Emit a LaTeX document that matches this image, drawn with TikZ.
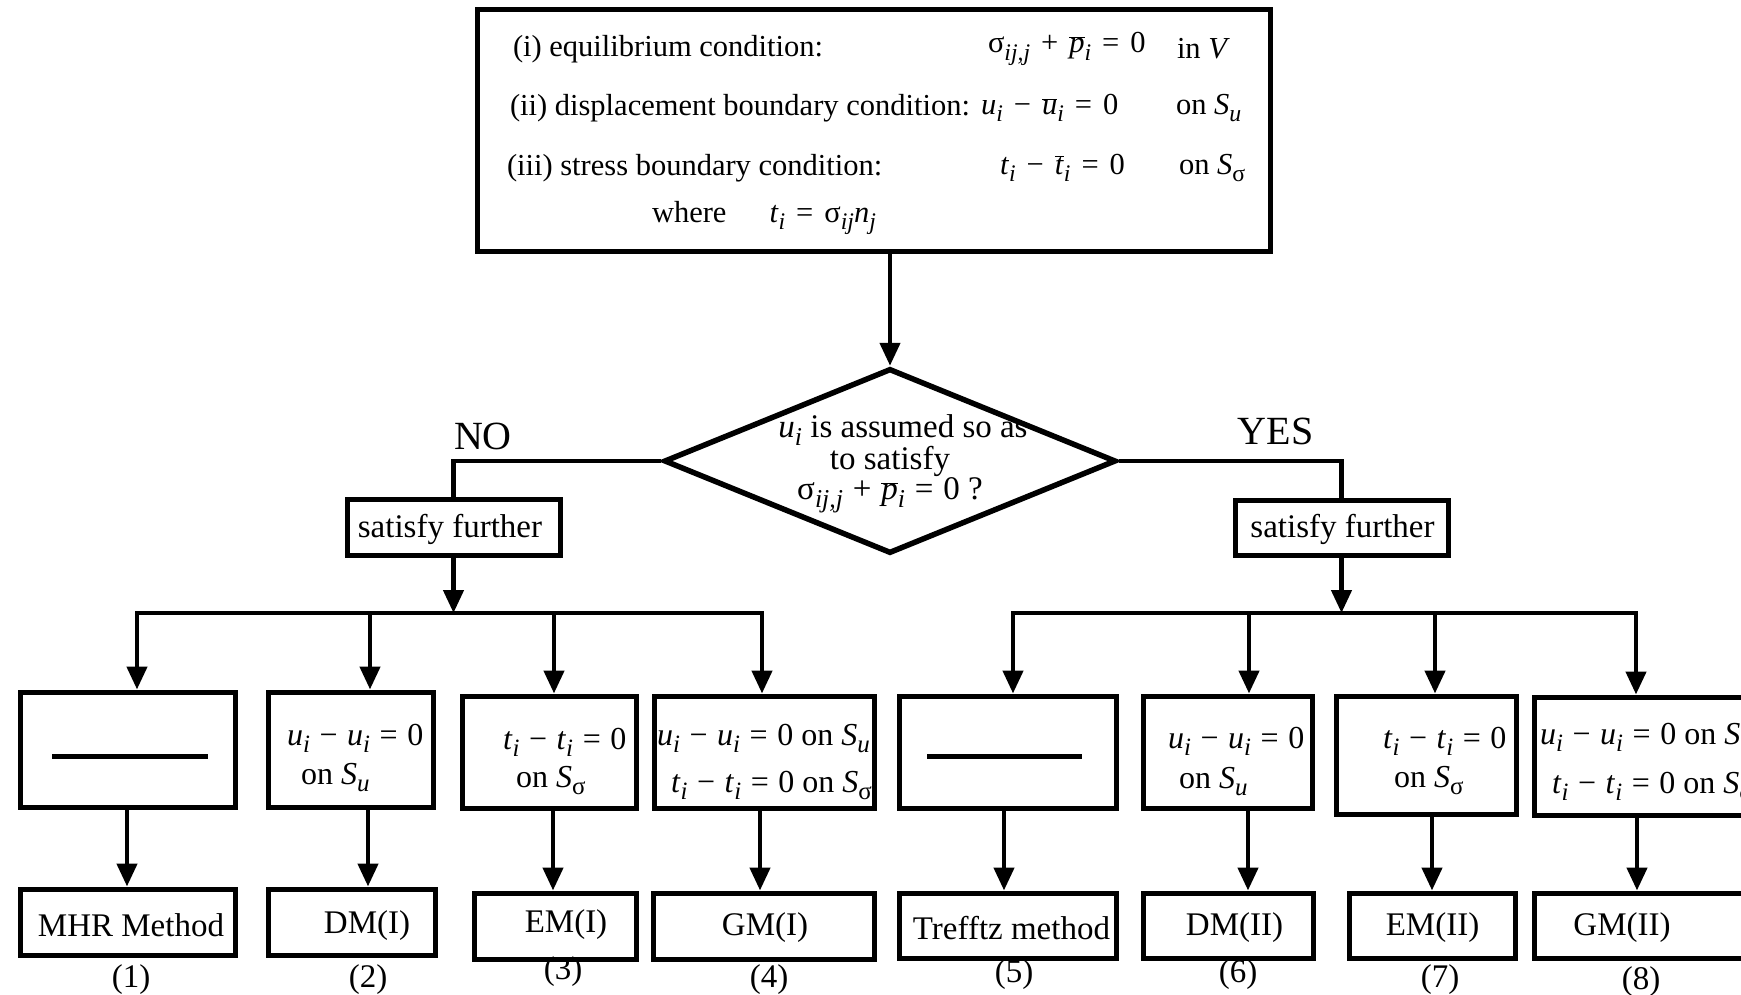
\documentclass[tikz,border=0pt]{standalone}
\usepackage{fontspec}
\setmainfont{Liberation Serif}
\usetikzlibrary{arrows.meta,shapes.geometric,calc}
\newcommand{\fTop}{\fontsize{30.5}{36}\selectfont}
\newcommand{\fDia}{\fontsize{33}{28}\selectfont}
\newcommand{\fMid}{\fontsize{32}{36}\selectfont}
\newcommand{\fBot}{\fontsize{33}{40}\selectfont}
\newcommand{\fBig}{\fontsize{40}{48}\selectfont}
\newcommand{\sbs}[1]{\raisebox{-0.24em}{\scalebox{0.78}{\textit{#1}}}}
\newcommand{\vi}[2]{\textit{#1}\sbs{#2}}
\newcommand{\obar}[1]{$\overline{\hbox{#1}}$}
\newcommand{\bop}[1]{\hspace{0.36em}#1\hspace{0.36em}}
\newcommand{\mop}[1]{\hspace{0.3em}#1\hspace{0.3em}}
\tikzset{
  box/.style={draw, rectangle, line width=5pt, inner sep=0pt},
  ln/.style={line width=4.5pt},
  arr/.style={line width=4.5pt, -{Triangle[width=20pt,length=23pt]}},
  txt/.style={inner sep=0pt, outer sep=0pt},
}
\begin{document}
\begin{tikzpicture}[x=1pt,y=-1pt]
\useasboundingbox (0,0) rectangle (1741,995);
% top box
\node[box, minimum width=793pt, minimum height=242pt] (top) at (873.5,131) {};
\node[txt, anchor=west, font=\fTop] (l1) at (513,49) {(i) equilibrium condition:};
\node[txt, anchor=west, font=\fTop] (l2) at (510,108) {(ii) displacement boundary condition:};
\node[txt, anchor=west, font=\fTop] (l3) at (507,168) {(iii) stress boundary condition:};
\node[txt, anchor=west, font=\fTop] (l4) at (652,218) {where\hspace{43pt}\vi{t}{i}\bop{=}σ\sbs{ij}\vi{n}{j}};
\node[txt, anchor=west, font=\fTop] (e1) at (988,49) {σ\sbs{ij,j}\bop{+}\obar{\textit{p}}\sbs{i}\bop{=}0};
\node[txt, anchor=west, font=\fTop] (e2) at (981,108) {\vi{u}{i}\bop{−}\obar{\textit{u}}\sbs{i}\bop{=}0};
\node[txt, anchor=west, font=\fTop] (e3) at (1000,168) {\vi{t}{i}\bop{−}\obar{\textit{t}}\sbs{i}\bop{=}0};
\node[txt, anchor=west, font=\fTop] (c1) at (1177,49) {in \textit{V}};
\node[txt, anchor=west, font=\fTop] (c2) at (1176,108) {on \vi{S}{u}};
\node[txt, anchor=west, font=\fTop] (c3) at (1179,168) {on \textit{S}\sbs{\normalfont σ}};
% decision
\node[draw, diamond, line width=5.5pt, inner sep=0pt, minimum width=452pt, minimum height=185pt] (dia) at (890,461) {};
\node[txt, align=center, font=\fDia] (dq) at (890,464) {\hspace*{26pt}\vi{u}{i} is assumed so as\\to satisfy\\σ\sbs{ij,j}\mop{+}\obar{\textit{p}}\sbs{i}\mop{=}0 ?};
\node[txt, font=\fBig] (no) at (483,436) {NO};
\node[txt, font=\fBig] (yes) at (1275.5,431) {YES};
% satisfy further
\node[box, minimum width=213pt, minimum height=56pt] (sfL) at (453.5,527) {};
\node[box, minimum width=213pt, minimum height=55pt] (sfR) at (1341.5,527.5) {};
\node[txt, anchor=base, font=\fDia] (sfLt) at (450,537) {satisfy further};
\node[txt, anchor=base, font=\fDia] (sfRt) at (1342.5,537) {satisfy further};
% middle boxes
\node[box, minimum width=215pt, minimum height=115pt] (m1) at (127.5,749.5) {};
\node[box, minimum width=165pt, minimum height=115pt] (m2) at (350.5,749.5) {};
\node[box, minimum width=174pt, minimum height=112pt] (m3) at (549,752) {};
\node[box, minimum width=220pt, minimum height=112pt] (m4) at (764,752) {};
\node[box, minimum width=217pt, minimum height=112pt] (m5) at (1007.5,752) {};
\node[box, minimum width=169pt, minimum height=112pt] (m6) at (1227.5,752) {};
\node[box, minimum width=180pt, minimum height=118pt] (m7) at (1426,755) {};
\node[box, minimum width=236pt, minimum height=118pt] (m8) at (1652,756) {};
\draw[line width=5pt] ($(m1.center)+(-75.5,6.5)$) -- ($(m1.center)+(80.5,6.5)$);
\draw[line width=5pt] ($(m5.center)+(-80.5,4)$) -- ($(m5.center)+(74.5,4)$);
\node[txt, anchor=base west, font=\fMid] (m2a) at (287,745) {\vi{u}{i}\mop{−}\vi{u}{i}\mop{=}0};
\node[txt, anchor=base west, font=\fMid] (m2b) at (301,784) {on \vi{S}{u}};
\node[txt, anchor=base west, font=\fMid] (m3a) at (503,749) {\vi{t}{i}\mop{−}\vi{t}{i}\mop{=}0};
\node[txt, anchor=base west, font=\fMid] (m3b) at (516,787) {on \textit{S}\sbs{\normalfont σ}};
\node[txt, anchor=base west, font=\fMid] (m4a) at (657,745) {\vi{u}{i}\mop{−}\vi{u}{i}\mop{=}0 on \vi{S}{u}};
\node[txt, anchor=base west, font=\fMid] (m4b) at (671,792) {\vi{t}{i}\mop{−}\vi{t}{i}\mop{=}0 on \textit{S}\sbs{\normalfont σ}};
\node[txt, anchor=base west, font=\fMid] (m6a) at (1168,748) {\vi{u}{i}\mop{−}\vi{u}{i}\mop{=}0};
\node[txt, anchor=base west, font=\fMid] (m6b) at (1179,788) {on \vi{S}{u}};
\node[txt, anchor=base west, font=\fMid] (m7a) at (1383,748) {\vi{t}{i}\mop{−}\vi{t}{i}\mop{=}0};
\node[txt, anchor=base west, font=\fMid] (m7b) at (1394,787) {on \textit{S}\sbs{\normalfont σ}};
\node[txt, anchor=base west, font=\fMid] (m8a) at (1540,744) {\vi{u}{i}\mop{−}\vi{u}{i}\mop{=}0 on \vi{S}{u}};
\node[txt, anchor=base west, font=\fMid] (m8b) at (1552,793) {\vi{t}{i}\mop{−}\vi{t}{i}\mop{=}0 on \textit{S}\sbs{\normalfont σ}};
% bottom boxes
\node[box, minimum width=215pt, minimum height=66pt] (b1) at (127.5,922) {};
\node[box, minimum width=167pt, minimum height=66pt] (b2) at (351.5,922) {};
\node[box, minimum width=162pt, minimum height=66pt] (b3) at (555,926) {};
\node[box, minimum width=221pt, minimum height=66pt] (b4) at (763.5,926) {};
\node[box, minimum width=217pt, minimum height=65pt] (b5) at (1007.5,925.5) {};
\node[box, minimum width=170pt, minimum height=65pt] (b6) at (1228,925.5) {};
\node[box, minimum width=166pt, minimum height=65pt] (b7) at (1432,925.5) {};
\node[box, minimum width=236pt, minimum height=65pt] (b8) at (1652,925.5) {};
\node[txt, font=\fBot] (b1t) at (131,925) {MHR Method};
\node[txt, font=\fBot] (b2t) at (367,926) {DM(I)};
\node[txt, font=\fBot] (b3t) at (566,925) {EM(I)};
\node[txt, font=\fBot] (b4t) at (765,928) {GM(I)};
\node[txt, font=\fBot] (b5t) at (1011.5,928) {Trefftz method};
\node[txt, font=\fBot] (b6t) at (1234.5,928) {DM(II)};
\node[txt, font=\fBot] (b7t) at (1432.5,928) {EM(II)};
\node[txt, font=\fBot] (b8t) at (1622,928) {GM(II)};
\node[txt, font=\fBot] (n1) at (131,980) {(1)};
\node[txt, font=\fBot] (n2) at (368,980) {(2)};
\node[txt, font=\fBot] (n3) at (563,972) {(3)};
\node[txt, font=\fBot] (n4) at (769,980) {(4)};
\node[txt, font=\fBot] (n5) at (1014,975) {(5)};
\node[txt, font=\fBot] (n6) at (1238,975) {(6)};
\node[txt, font=\fBot] (n7) at (1440,980) {(7)};
\node[txt, font=\fBot] (n8) at (1641,982) {(8)};
% coordinates
\coordinate (jL) at (453.5,613);
\coordinate (jR) at (1341.5,613);
\coordinate (aL1) at (137,613);
\coordinate (aL2) at (370,613);
\coordinate (aL3) at (554,613);
\coordinate (aL4) at (762,613);
\coordinate (aR1) at (1013,613);
\coordinate (aR2) at (1249,613);
\coordinate (aR3) at (1435,613);
\coordinate (aR4) at (1636,613);
\coordinate (dL1) at (127,0);
\coordinate (dL2) at (368,0);
\coordinate (dL3) at (553,0);
\coordinate (dL4) at (760,0);
\coordinate (dR1) at (1004,0);
\coordinate (dR2) at (1248,0);
\coordinate (dR3) at (1432,0);
\coordinate (dR4) at (1637,0);
% connectors
\draw[arr] (top.south -| dia.north) -- (dia.north);
\draw[ln] (dia.west) -| (sfL.north);
\draw[ln] (dia.east) -| (sfR.north);
\draw[arr] (sfL.south) -- (jL);
\draw[arr] (sfR.south) -- (jR);
\draw[arr] (jL) -| (aL1 |- m1.north);
\draw[arr] (jL) -| (aL4 |- m4.north);
\draw[arr] (aL2) -- (aL2 |- m2.north);
\draw[arr] (aL3) -- (aL3 |- m3.north);
\draw[arr] (jR) -| (aR1 |- m5.north);
\draw[arr] (jR) -| (aR4 |- m8.north);
\draw[arr] (aR2) -- (aR2 |- m6.north);
\draw[arr] (aR3) -- (aR3 |- m7.north);
\draw[arr] (m1.south -| dL1) -- (b1.north -| dL1);
\draw[arr] (m2.south -| dL2) -- (b2.north -| dL2);
\draw[arr] (m3.south -| dL3) -- (b3.north -| dL3);
\draw[arr] (m4.south -| dL4) -- (b4.north -| dL4);
\draw[arr] (m5.south -| dR1) -- (b5.north -| dR1);
\draw[arr] (m6.south -| dR2) -- (b6.north -| dR2);
\draw[arr] (m7.south -| dR3) -- (b7.north -| dR3);
\draw[arr] (m8.south -| dR4) -- (b8.north -| dR4);
\end{tikzpicture}
\end{document}
